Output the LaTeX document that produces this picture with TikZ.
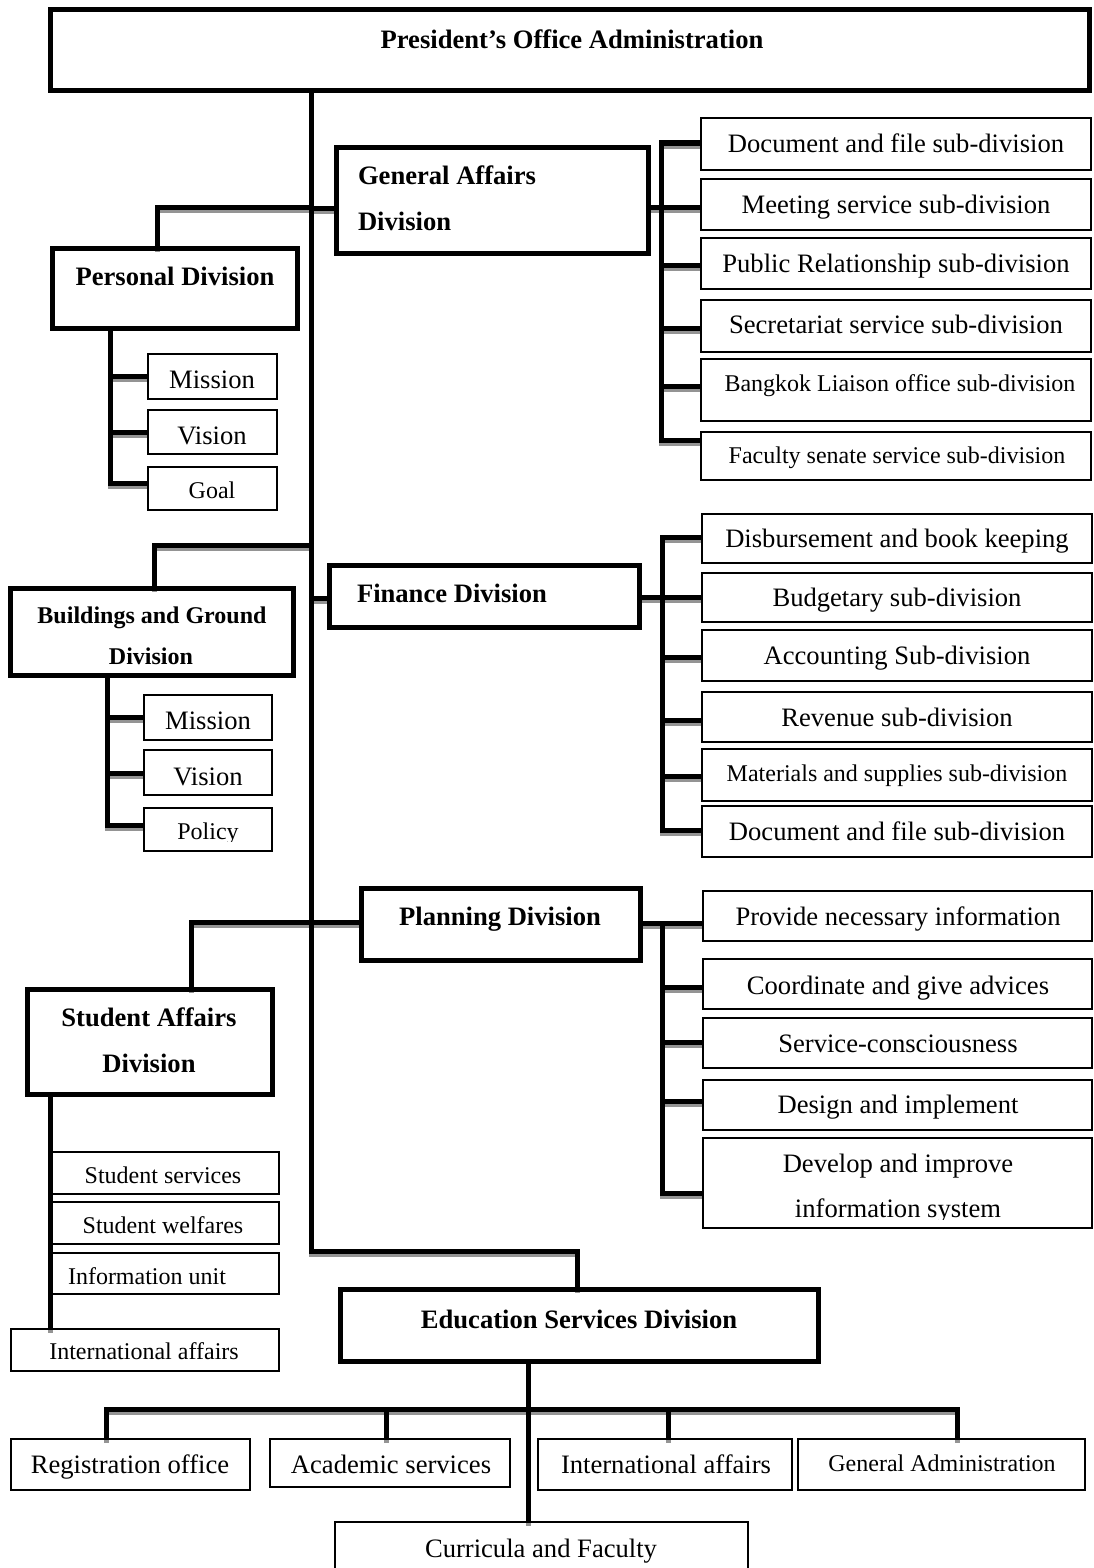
\documentclass[tikz,border=0pt]{standalone}
\usepackage{fontspec}
\setmainfont{Liberation Serif}
\pgfdeclarelayer{shadow}
\pgfsetlayers{shadow,main}
% box from border-centre corners (x1,y1)-(x2,y2)
\newcommand\orgbox[6]{\node[#2, minimum width={#5-#3}, minimum height={#6-#4}] (#1) at ({(#3+#5)/2},{(#4+#6)/2}) {};}
% all elbow connectors, drawn with the style given as argument
\newcommand\orglinks[1]{%
  % main trunk down to the education division
  \coordinate (tkb) at (311,1251);
  \coordinate (edj) at (577,1251);
  \draw[#1] (pres.south -| tkb) -- (tkb) -- (edj) -- (edj |- edu.north);
  % personal division
  \coordinate (pj) at (157,207);
  \draw[#1] (pj -| tkb) -- (pj) -- (pj |- pers.north);
  % general affairs division and its sub-divisions
  \coordinate (gj) at (311,208);
  \draw[#1] (gj) -- (gj -| ga.west);
  \coordinate (gb) at (661,207);
  \draw[#1] (gb -| ga.east) -- (gb);
  \coordinate (gt) at (661,143);
  \coordinate (gbm) at (661,440);
  \draw[#1] (gs1.west |- gt) -- (gt) -- (gbm) -- (gbm -| gs6.west);
  \foreach \yy/\nn in {207/gs2,265/gs3,328/gs4,386/gs5}{%
    \coordinate (b-\nn) at (661,\yy);
    \draw[#1] (b-\nn) -- (b-\nn -| \nn.west);}
  % personal sub-items
  \coordinate (pv) at (110,483);
  \draw[#1] (pv |- pers.south) -- (pv) -- (pv -| g1.west);
  \foreach \yy/\nn in {376/m1,432/v1}{%
    \coordinate (b-\nn) at (110,\yy);
    \draw[#1] (b-\nn) -- (b-\nn -| \nn.west);}
  % buildings and ground division
  \coordinate (bj) at (154,545);
  \draw[#1] (bj -| tkb) -- (bj) -- (bj |- bld.north);
  \coordinate (bv) at (107,825);
  \draw[#1] (bv |- bld.south) -- (bv) -- (bv -| p2.west);
  \foreach \yy/\nn in {717/m2,773/v2}{%
    \coordinate (b-\nn) at (107,\yy);
    \draw[#1] (b-\nn) -- (b-\nn -| \nn.west);}
  % finance division and its sub-divisions
  \coordinate (fj) at (311,598);
  \draw[#1] (fj) -- (fj -| fin.west);
  \coordinate (fb) at (662,597);
  \draw[#1] (fb -| fin.east) -- (fb);
  \coordinate (ft) at (662,537);
  \coordinate (fbm) at (662,830);
  \draw[#1] (fs1.west |- ft) -- (ft) -- (fbm) -- (fbm -| fs6.west);
  \foreach \yy/\nn in {657/fs3,720/fs4,776/fs5}{%
    \coordinate (b-\nn) at (662,\yy);
    \draw[#1] (b-\nn) -- (b-\nn -| \nn.west);}
  \draw[#1] (fb) -- (fb -| fs2.west);
  % planning division and student affairs
  \coordinate (sj) at (191,922);
  \draw[#1] (sj |- stu.north) -- (sj) -- (sj -| plan.west);
  \coordinate (pb) at (662,923);
  \draw[#1] (pb -| plan.east) -- (pb -| ps1.west);
  \coordinate (pbm) at (662,1193);
  \draw[#1] (pb) -- (pbm) -- (pbm -| ps5.west);
  \foreach \yy/\nn in {987/ps2,1042/ps3,1101/ps4}{%
    \coordinate (b-\nn) at (662,\yy);
    \draw[#1] (b-\nn) -- (b-\nn -| \nn.west);}
  % student affairs items
  \coordinate (sv) at (50,1200);
  \draw[#1] (sv |- stu.south) -- (sv |- ss4.north);
  % education services units
  \coordinate (eb) at (528,1409);
  \draw[#1] (eb |- edu.south) -- (eb |- cur.north);
  \coordinate (el) at (106,1409);
  \coordinate (er) at (957,1409);
  \draw[#1] (el |- b1.north) -- (el) -- (er) -- (er |- b4.north);
  \foreach \xx/\nn in {386/b2,668/b3}{%
    \coordinate (d-\nn) at (\xx,1409);
    \draw[#1] (d-\nn) -- (d-\nn |- \nn.north);}
}
\begin{document}
\begin{tikzpicture}[x=1pt,y=-1pt,
  every node/.style={inner sep=0pt,outer sep=0pt},
  divbox/.style={draw,line width=5pt,rectangle},
  subbox/.style={draw,line width=2pt,rectangle},
  link/.style={line width=5pt,line cap=butt,line join=miter},
  shade/.style={link,draw=black!42},
  big/.style={font=\fontsize{26.6}{30}\selectfont,anchor=base},
  small/.style={font=\fontsize{24}{28}\selectfont,anchor=base},
  bigb/.style={font=\fontsize{26.6}{30}\selectfont\bfseries,anchor=base},
  smallb/.style={font=\fontsize{24}{28}\selectfont\bfseries,anchor=base}]
\useasboundingbox (0,0) rectangle (1094,1568);

% ---- division boxes ----
\orgbox{pres}{divbox}{50.5}{9.5}{1089.5}{90.5}
\orgbox{ga}{divbox}{336.5}{147.5}{648.5}{253.5}
\orgbox{pers}{divbox}{52.5}{248.5}{297.5}{328.5}
\orgbox{bld}{divbox}{10.5}{588.5}{293.5}{675.5}
\orgbox{fin}{divbox}{329.5}{565.5}{639.5}{627.5}
\orgbox{plan}{divbox}{361.5}{888.5}{640.5}{960.5}
\orgbox{stu}{divbox}{27.5}{989.5}{272.5}{1094.5}
\orgbox{edu}{divbox}{340.5}{1289.5}{818.5}{1361.5}

% ---- general affairs sub-divisions ----
\orgbox{gs1}{subbox}{701}{118}{1091}{170}
\orgbox{gs2}{subbox}{701}{179}{1091}{230}
\orgbox{gs3}{subbox}{701}{238}{1091}{289}
\orgbox{gs4}{subbox}{701}{300}{1091}{352}
\orgbox{gs5}{subbox}{701}{359}{1091}{421}
\orgbox{gs6}{subbox}{701}{432}{1091}{480}
% ---- finance sub-divisions ----
\orgbox{fs1}{subbox}{702}{514}{1092}{563}
\orgbox{fs2}{subbox}{702}{573}{1092}{622}
\orgbox{fs3}{subbox}{702}{630}{1092}{681}
\orgbox{fs4}{subbox}{702}{692}{1092}{742}
\orgbox{fs5}{subbox}{702}{749}{1092}{801}
\orgbox{fs6}{subbox}{702}{806}{1092}{857}
% ---- planning items ----
\orgbox{ps1}{subbox}{703}{891}{1092}{941}
\orgbox{ps2}{subbox}{703}{959}{1092}{1009}
\orgbox{ps3}{subbox}{703}{1018}{1092}{1068}
\orgbox{ps4}{subbox}{703}{1080}{1092}{1130}
\orgbox{ps5}{subbox}{703}{1138}{1092}{1228}
% ---- personal items ----
\orgbox{m1}{subbox}{148}{354}{277}{399}
\orgbox{v1}{subbox}{148}{410}{277}{454}
\orgbox{g1}{subbox}{148}{467}{277}{510}
% ---- buildings items ----
\orgbox{m2}{subbox}{144}{695}{272}{740}
\orgbox{v2}{subbox}{144}{750}{272}{795}
\orgbox{p2}{subbox}{144}{808}{272}{851}
% ---- student affairs items ----
\orgbox{ss1}{subbox}{49}{1152}{279}{1194}
\orgbox{ss2}{subbox}{49}{1202}{279}{1244}
\orgbox{ss3}{subbox}{49}{1253}{279}{1294}
\orgbox{ss4}{subbox}{11}{1329}{279}{1371}
% ---- education services units ----
\orgbox{b1}{subbox}{11}{1439}{250}{1490}
\orgbox{b2}{subbox}{270}{1439}{510}{1487}
\orgbox{b3}{subbox}{538}{1439}{792}{1490}
\orgbox{b4}{subbox}{798}{1439}{1085}{1490}
\orgbox{cur}{subbox}{335}{1522}{748}{1580}

% ---- connectors: soft shadow first, then the black lines ----
\begin{pgfonlayer}{shadow}
  \begin{scope}[transform canvas={xshift=0.5pt,yshift=-3.5pt}]
    \orglinks{shade}
  \end{scope}
\end{pgfonlayer}
\orglinks{link}

% ---- division titles ----
\node[bigb] (pres-t) at (572,49) {President’s Office Administration};
\node[bigb,anchor=base west] (ga-t1) at (358,184) {General Affairs};
\node[bigb,anchor=base west] (ga-t2) at (358,230) {Division};
\node[bigb] (pers-t) at (175,285) {Personal Division};
\node[smallb] (bld-t1) at (152,623) {Buildings and Ground};
\node[smallb] (bld-t2) at (151,664) {Division};
\node[bigb,anchor=base west] (fin-t) at (357,602) {Finance Division};
\node[bigb] (plan-t) at (500,925) {Planning Division};
\node[bigb] (stu-t1) at (149,1026) {Student Affairs};
\node[bigb] (stu-t2) at (149,1072) {Division};
\node[bigb] (edu-t) at (579,1328) {Education Services Division};

% ---- general affairs sub-division labels ----
\node[big] (gs1-t) at (896,153) {Document and file sub-division};
\node[big] (gs2-t) at (896,213) {Meeting service sub-division};
\node[big] (gs3-t) at (896,272) {Public Relationship sub-division};
\node[big] (gs4-t) at (896,333) {Secretariat service sub-division};
\node[small] (gs5-t) at (900,391) {Bangkok Liaison office sub-division};
\node[small] (gs6-t) at (897,463) {Faculty senate service sub-division};
% ---- finance sub-division labels ----
\node[big] (fs1-t) at (897,547) {Disbursement and book keeping};
\node[big] (fs2-t) at (897,606) {Budgetary sub-division};
\node[big] (fs3-t) at (897,664) {Accounting Sub-division};
\node[big] (fs4-t) at (897,726) {Revenue sub-division};
\node[small] (fs5-t) at (897,781) {Materials and supplies sub-division};
\node[big] (fs6-t) at (897,840) {Document and file sub-division};
% ---- planning labels ----
\node[big] (ps1-t) at (898,925) {Provide necessary information};
\node[big] (ps2-t) at (898,994) {Coordinate and give advices};
\node[big] (ps3-t) at (898,1052) {Service-consciousness};
\node[big] (ps4-t) at (898,1113) {Design and implement};
\node[big] (ps5-t1) at (898,1172) {Develop and improve};
\begin{scope}
  \clip (703,1139) rectangle (1092,1219);
  \node[big] (ps5-t2) at (898,1217) {information system};
\end{scope}
% ---- personal labels ----
\node[big] (m1-t) at (212,388) {Mission};
\node[big] (v1-t) at (212,444) {Vision};
\node[small] (g1-t) at (212,498) {Goal};
% ---- buildings labels ----
\node[big] (m2-t) at (208,729) {Mission};
\node[big] (v2-t) at (208,785) {Vision};
\begin{scope}
  \clip (144,809) rectangle (272,841);
  \node[small] (p2-t) at (208,839) {Policy};
\end{scope}
% ---- student affairs labels ----
\node[small] (ss1-t) at (163,1183) {Student services};
\node[small] (ss2-t) at (163,1233) {Student welfares};
\node[small] (ss3-t) at (147,1284) {Information unit};
\node[small] (ss4-t) at (144,1359) {International affairs};
% ---- education services labels ----
\node[big] (b1-t) at (130,1473) {Registration office};
\node[big] (b2-t) at (391,1473) {Academic services};
\node[big] (b3-t) at (666,1473) {International affairs};
\node[small] (b4-t) at (942,1471) {General Administration};
\node[big] (cur-t) at (541,1557) {Curricula and Faculty};
\end{tikzpicture}
\end{document}
